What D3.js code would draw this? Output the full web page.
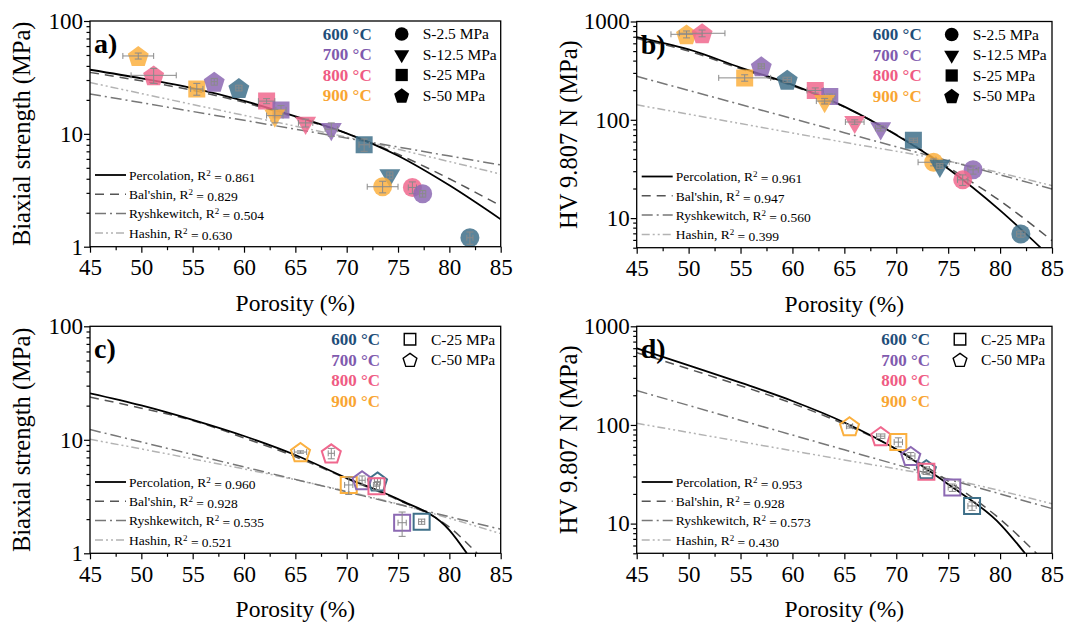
<!DOCTYPE html>
<html>
<head>
<meta charset="utf-8">
<script src="https://cdn.jsdelivr.net/npm/d3@7"></script>
<style>
  body { margin: 0; background: #fff; }
  svg text { font-family: "Liberation Serif", "Times New Roman", serif; }
</style>
</head>
<body>
<script>
// ---- data ----
var temps = ["600 °C", "700 °C", "800 °C", "900 °C"];
var sSeries = ["S-2.5 MPa", "S-12.5 MPa", "S-25 MPa", "S-50 MPa"];   // circle, triangle, square, pentagon
var cSeries = ["C-25 MPa", "C-50 MPa"];                               // open square, open pentagon
var xTicks = [45, 50, 55, 60, 65, 70, 75, 80, 85];

// [temp index, shape index, porosity, value, x error, y error]
var pointsA = [
  [3, 3, 49.7, 49, 1.5, 3], [2, 3, 51.2, 33, 2.2, 5], [3, 2, 55.4, 25, 0.6, 3],
  [1, 3, 57.1, 29, 0.3, 2], [0, 3, 59.5, 25.5, 0.3, 1.5], [2, 2, 62.2, 19.5, 0.8, 1],
  [1, 2, 63.6, 16.3, 0.5, 1.5], [3, 1, 63.0, 14.5, 0.8, 2], [2, 1, 66.0, 12.5, 0.7, 1],
  [1, 1, 68.5, 11, 0.6, 1.5], [0, 2, 71.7, 8, 0.5, 1], [0, 1, 74.2, 4.3, 0.3, 0.3],
  [3, 0, 73.5, 3.4, 1.5, 0.4], [2, 0, 76.4, 3.35, 0.4, 0.4], [1, 0, 77.4, 2.95, 0.3, 0.2],
  [0, 0, 82.0, 1.2, 0.3, 0.15]
];
var pointsB = [
  [3, 3, 49.8, 741, 1.5, 60], [2, 3, 51.3, 759, 2.2, 60], [1, 3, 57.0, 351, 0.3, 20],
  [3, 2, 55.4, 267, 2.5, 20], [0, 3, 59.5, 256, 0.4, 15], [2, 2, 62.2, 199, 0.8, 12],
  [1, 2, 63.6, 173, 0.5, 10], [3, 1, 63.1, 155, 0.8, 10], [2, 1, 66.0, 95, 0.9, 5],
  [1, 1, 68.5, 82, 0.5, 5], [0, 2, 71.65, 62, 0.4, 3], [3, 0, 73.6, 37, 1.5, 3],
  [0, 1, 74.2, 34, 0.3, 2], [1, 0, 77.4, 31, 0.5, 3], [2, 0, 76.4, 24.5, 0.5, 3],
  [0, 0, 82.0, 6.9, 0.4, 0.5]
];
var pointsC = [
  [3, 1, 65.5, 7.8, 0.6, 0.2], [2, 1, 68.5, 7.6, 0.3, 0.8], [3, 0, 70.2, 4.0, 0.4, 0.7],
  [1, 1, 71.5, 4.4, 0.3, 0.4], [0, 1, 73.0, 4.3, 0.3, 0.3], [2, 0, 72.9, 3.9, 0.3, 0.3],
  [1, 0, 75.4, 1.86, 0.4, 0.45], [0, 0, 77.3, 1.9, 0.3, 0.1]
];
var pointsD = [
  [3, 1, 65.5, 97, 0.3, 4], [2, 1, 68.5, 77, 0.4, 4], [3, 0, 70.2, 67, 0.4, 7],
  [1, 1, 71.4, 48.5, 0.4, 4], [0, 1, 72.9, 35.6, 0.3, 2], [2, 0, 72.9, 33.5, 0.3, 2],
  [1, 0, 75.4, 23.2, 0.4, 2], [0, 0, 77.3, 15.1, 0.4, 1.5]
];

// fitted model curves, [porosity, value]
var percA = [[45, 37], [50, 31], [55, 25.4], [60, 19.6], [65, 14.3], [70, 10.1], [75, 6.4], [80, 3.5], [85, 1.75]];
var balA  = [[45, 35], [50, 29.5], [55, 24.3], [60, 19], [65, 14], [70, 10.1], [75, 6.6], [80, 4.0], [85, 2.3]];
var ryshA = [[45, 22.6], [65, 11], [85, 5.3]];
var hashA = [[45, 28.5], [55, 18.2], [65, 11.7], [70, 9.35], [75, 7.3], [85, 4.4]];

var percB = [[45, 695], [50, 520], [55, 340], [60, 227], [65, 136], [70, 70], [75, 31.8], [80, 12], [84, 4.9]];
var balB  = [[45, 670], [50, 500], [55, 330], [60, 222], [65, 135], [70, 71], [75, 33], [80, 15], [85, 5.9]];
var ryshB = [[45, 277], [65, 74], [85, 19.8]];
var hashB = [[45, 142], [55, 91.6], [65, 59], [74, 40], [85, 21.4]];

var percC = [[45, 25.7], [50, 20.1], [55, 15.0], [60, 10.8], [65, 7.35], [70, 4.6], [75, 3.0], [80, 1.6], [81.7, 1]];
var balC  = [[45, 23.8], [50, 19], [55, 14.8], [60, 10.4], [65, 7.1], [70, 4.55], [75, 2.95], [80, 1.7], [82.7, 1]];
var ryshC = [[45, 12.3], [65, 4.48], [85, 1.63]];
var hashC = [[45, 10.1], [55, 6.8], [65, 4.45], [75, 2.72], [85, 1.49]];

var percD = [[45, 598], [50, 401], [55, 268], [60, 175], [65, 106], [70, 56.6], [75, 25], [80, 9.9], [82.4, 5]];
var balD  = [[45, 541], [50, 370], [55, 250], [60, 165], [65, 102], [70, 57], [75, 27], [80, 11.1], [83.5, 5]];
var ryshD = [[45, 223], [65, 56], [85, 14.2]];
var hashD = [[45, 104], [55, 67.8], [65, 44.2], [74, 30], [85, 15.9]];

var modelNames = ["Percolation", "Bal'shin", "Ryshkewitch", "Hashin"];
var r2A = ["0.861", "0.829", "0.504", "0.630"];
var r2B = ["0.961", "0.947", "0.560", "0.399"];
var r2C = ["0.960", "0.928", "0.535", "0.521"];
var r2D = ["0.953", "0.928", "0.573", "0.430"];

// ---- styles ----
var markColor = ["#3f7089", "#8c69b3", "#f0688e", "#fbb03f"];
var textColor = ["#1f4e79", "#7f5aae", "#ef5b83", "#f9a532"];
var lineStyle = [
  {stroke: "#000", width: 1.8, dash: null},
  {stroke: "#555", width: 1.5, dash: "9,6"},
  {stroke: "#777", width: 1.5, dash: "11,4,2,4"},
  {stroke: "#b3b3b3", width: 1.5, dash: "8,3,2,3,2,3"}
];

var svg = d3.select("body").append("svg")
  .attr("width", 1074).attr("height", 622);

// marker path builders
function pentagon(R) {
  var p = d3.range(5).map(function(k) {
    var a = -Math.PI / 2 + k * 2 * Math.PI / 5;
    return [R * Math.cos(a), R * Math.sin(a) + R * 0.1];
  });
  return "M" + p.join("L") + "Z";
}
function shapePath(k, s) {
  if (k === "circle") return "M" + s + ",0A" + s + "," + s + " 0 1,1 " + (-s) + ",0A" + s + "," + s + " 0 1,1 " + s + ",0Z";
  if (k === "tri") {
    var h = s * Math.sqrt(3);
    return "M" + (-s) + "," + (-h / 3) + "L" + s + "," + (-h / 3) + "L0," + (2 * h / 3) + "Z";
  }
  if (k === "square") return "M" + (-s) + "," + (-s) + "H" + s + "V" + s + "H" + (-s) + "Z";
  return pentagon(s);
}
var sShapes = [["circle", 9.5], ["tri", 10.5], ["square", 8.5], ["pent", 11]];
var cShapes = [["square", 8], ["pent", 10]];

function drawPanel(cfg) {
  var g = svg.append("g");
  var x = d3.scaleLinear().domain([45, 85]).range([cfg.x0, cfg.x1]);
  var y = d3.scaleLog().domain(cfg.yDom).range([cfg.y1, cfg.y0]);

  var clipId = "clip" + cfg.label;
  svg.append("clipPath").attr("id", clipId).append("rect")
    .attr("x", cfg.x0).attr("y", cfg.y0)
    .attr("width", cfg.x1 - cfg.x0).attr("height", cfg.y1 - cfg.y0);

  // x axis (major + minor)
  var xMinor = d3.range(47.5, 85, 5);
  g.append("g").attr("transform", "translate(0," + cfg.y1 + ")")
    .call(d3.axisBottom(x).tickValues(xTicks).tickSize(6).tickFormat(d3.format("d")))
    .call(function(a) {
      a.select(".domain").remove();
      a.selectAll("text").attr("font-size", 23).attr("dy", "0.85em");
      a.selectAll("line").attr("stroke-width", 1.2);
    });
  g.append("g").attr("transform", "translate(0," + cfg.y1 + ")")
    .call(d3.axisBottom(x).tickValues(xMinor).tickSize(3.5).tickFormat(""))
    .call(function(a) { a.select(".domain").remove(); a.selectAll("line").attr("stroke-width", 1.2); });

  // y axis (log, major + minor)
  var yMajor = [1, 10, 100, 1000].filter(function(v) { return v >= cfg.yDom[0] && v <= cfg.yDom[1]; });
  var yMinor = [];
  [1, 10, 100].forEach(function(dec) {
    d3.range(2, 10).forEach(function(m) {
      var v = dec * m;
      if (v >= cfg.yDom[0] && v <= cfg.yDom[1]) yMinor.push(v);
    });
  });
  g.append("g").attr("transform", "translate(" + cfg.x0 + ",0)")
    .call(d3.axisLeft(y).tickValues(yMajor).tickSize(6).tickFormat(d3.format("d")))
    .call(function(a) {
      a.select(".domain").remove();
      a.selectAll("text").attr("font-size", 23).attr("x", -7);
      a.selectAll("line").attr("stroke-width", 1.2);
    });
  g.append("g").attr("transform", "translate(" + cfg.x0 + ",0)")
    .call(d3.axisLeft(y).tickValues(yMinor).tickSize(3.5).tickFormat(""))
    .call(function(a) { a.select(".domain").remove(); a.selectAll("line").attr("stroke-width", 1.2); });

  // axis titles
  g.append("text").attr("x", (cfg.x0 + cfg.x1) / 2).attr("y", cfg.y1 + 64)
    .attr("text-anchor", "middle").attr("font-size", 23.5).text("Porosity (%)");
  g.append("text")
    .attr("transform", "translate(" + cfg.titleX + "," + (cfg.y0 + cfg.y1) / 2 + ") rotate(-90)")
    .attr("text-anchor", "middle").attr("font-size", 24.5).text(cfg.yTitle);

  // fitted curves
  var line = d3.line().x(function(d) { return x(d[0]); }).y(function(d) { return y(d[1]); })
    .curve(d3.curveMonotoneX);
  var cg = g.append("g").attr("clip-path", "url(#" + clipId + ")");
  cfg.curves.slice().reverse().forEach(function(c, i) {
    var st = lineStyle[3 - i];
    cg.append("path").datum(c).attr("d", line)
      .attr("fill", "none").attr("stroke", st.stroke).attr("stroke-width", st.width)
      .attr("stroke-dasharray", st.dash);
  });

  // points + error bars
  var pg = g.append("g").attr("clip-path", "url(#" + clipId + ")");
  cfg.points.forEach(function(p) {
    var cx = x(p[2]), cy = y(p[3]);
    var sh = cfg.open ? cShapes[p[1]] : sShapes[p[1]];
    var m = pg.append("path").attr("transform", "translate(" + cx + "," + cy + ")")
      .attr("d", shapePath(sh[0], sh[1]));
    if (cfg.open) {
      m.attr("fill", "none").attr("stroke", markColor[p[0]]).attr("stroke-width", 2);
    } else {
      m.attr("fill", markColor[p[0]]).attr("fill-opacity", 0.85);
    }
    var eb = pg.append("g").attr("stroke", "#8a8a8a").attr("stroke-width", 1).attr("fill", "none");
    var xl = x(p[2] - p[4]), xr = x(p[2] + p[4]);
    var yt = y(p[3] + p[5]), yb = y(Math.max(p[3] - p[5], cfg.yDom[0] * 0.5));
    eb.append("line").attr("x1", xl).attr("x2", xr).attr("y1", cy).attr("y2", cy);
    eb.append("line").attr("x1", xl).attr("x2", xl).attr("y1", cy - 3).attr("y2", cy + 3);
    eb.append("line").attr("x1", xr).attr("x2", xr).attr("y1", cy - 3).attr("y2", cy + 3);
    eb.append("line").attr("x1", cx).attr("x2", cx).attr("y1", yt).attr("y2", yb);
    eb.append("line").attr("x1", cx - 3.5).attr("x2", cx + 3.5).attr("y1", yt).attr("y2", yt);
    eb.append("line").attr("x1", cx - 3.5).attr("x2", cx + 3.5).attr("y1", yb).attr("y2", yb);
  });

  // frame
  g.append("rect").attr("x", cfg.x0).attr("y", cfg.y0)
    .attr("width", cfg.x1 - cfg.x0).attr("height", cfg.y1 - cfg.y0)
    .attr("fill", "none").attr("stroke", "#000").attr("stroke-width", 1.3);

  // panel letter
  g.append("text").attr("x", cfg.x0 + 4).attr("y", cfg.y0 + 32)
    .attr("font-size", 28).attr("font-weight", "bold").text(cfg.label + ")");

  // temperature legend
  temps.forEach(function(t, i) {
    g.append("text").attr("x", cfg.legX).attr("y", cfg.y0 + 13 + i * 20.5)
      .attr("dy", "0.35em").attr("text-anchor", "end")
      .attr("font-size", 17).attr("font-weight", "bold").attr("fill", textColor[i]).text(t);
  });
  // series legend
  var names = cfg.open ? cSeries : sSeries;
  names.forEach(function(n, i) {
    var yy = cfg.y0 + 13 + i * 20.5;
    var sh = cfg.open ? cShapes[i] : sShapes[i];
    var leg = g.append("path").attr("transform", "translate(" + cfg.symX + "," + yy + ")")
      .attr("d", shapePath(sh[0], sh[1] * 0.72));
    if (cfg.open) leg.attr("fill", "none").attr("stroke", "#000").attr("stroke-width", 1.4);
    else leg.attr("fill", "#000");
    g.append("text").attr("x", cfg.symX + 21).attr("y", yy).attr("dy", "0.35em")
      .attr("font-size", 15.5).text(n);
  });

  // model legend
  modelNames.forEach(function(n, i) {
    var yy = cfg.y0 + cfg.modelY + i * 19.3;
    var st = lineStyle[i];
    g.append("line").attr("x1", cfg.x0 + 5).attr("x2", cfg.x0 + 36).attr("y1", yy).attr("y2", yy)
      .attr("stroke", st.stroke).attr("stroke-width", st.width).attr("stroke-dasharray", st.dash);
    var t = g.append("text").attr("x", cfg.x0 + 39).attr("y", yy).attr("dy", "0.35em").attr("font-size", 13.5);
    t.append("tspan").text(n + ", R");
    t.append("tspan").attr("font-size", 9).attr("dy", "-0.45em").text("2");
    t.append("tspan").attr("dy", "0.45em").text(" = " + cfg.r2[i]);
  });
}

drawPanel({label: "a", x0: 90, x1: 500.7, y0: 21, y1: 246.7, yDom: [1, 100],
  yTitle: "Biaxial strength (MPa)", titleX: 30, legX: 371.7, symX: 401.7, modelY: 154,
  points: pointsA, curves: [percA, balA, ryshA, hashA], r2: r2A, open: false});
drawPanel({label: "b", x0: 636.7, x1: 1052, y0: 21.5, y1: 247.7, yDom: [5, 1000],
  yTitle: "HV 9.807 N (MPa)", titleX: 577, legX: 921.7, symX: 951.7, modelY: 155,
  points: pointsB, curves: [percB, balB, ryshB, hashB], r2: r2B, open: false});
drawPanel({label: "c", x0: 90, x1: 500.7, y0: 326.3, y1: 553.3, yDom: [1, 100],
  yTitle: "Biaxial strength (MPa)", titleX: 30, legX: 380, symX: 410, modelY: 155.7,
  points: pointsC, curves: [percC, balC, ryshC, hashC], r2: r2C, open: true});
drawPanel({label: "d", x0: 636.7, x1: 1052, y0: 326.3, y1: 553.3, yDom: [5, 1000],
  yTitle: "HV 9.807 N (MPa)", titleX: 577, legX: 930, symX: 960, modelY: 155.7,
  points: pointsD, curves: [percD, balD, ryshD, hashD], r2: r2D, open: true});
</script>
</body>
</html>
